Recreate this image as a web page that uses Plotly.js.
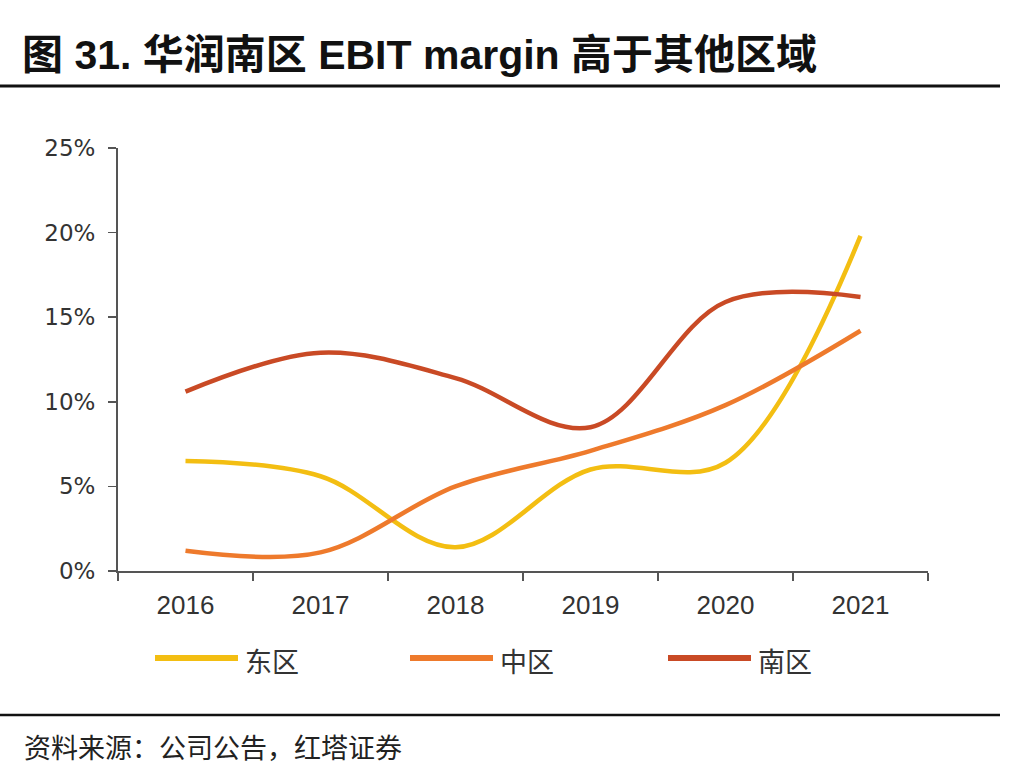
<!DOCTYPE html>
<html><head><meta charset="utf-8">
<script src="https://cdn.plot.ly/plotly-3.0.1.min.js"></script>
<style>html,body{margin:0;padding:0;background:#fff;}#chart{width:1024px;height:778px;}</style>
</head><body><div id="chart"></div>
<script>
const years = ['2016','2017','2018','2019','2020','2021'];
const east = [6.5, 5.6, 1.4, 6.0, 6.4, 19.8];
const central = [1.2, 1.1, 5.0, 7.1, 9.8, 14.2];
const south = [10.6, 12.9, 11.4, 8.5, 15.9, 16.2];
const seriesNames = ['东区','中区','南区'];
const colors = ['#F3BE12','#EE7A2C','#C94A25'];
const yTicks = [0,5,10,15,20,25];

const allSeries = [east, central, south];
const traces = allSeries.map((v,i)=>({
  x: years, y: v, type:'scatter', mode:'lines', name: seriesNames[i],
  line:{color:colors[i], width:4.5, shape:'spline', smoothing:1},
  hoverinfo:'skip'
}));

function py(pix){ return (778-207-pix)/423; }
function px(pix){ return (pix-118)/810; }
const deco = [
  {type:'line', xref:'paper', yref:'paper', x0:px(0), x1:px(1000), y0:py(86), y1:py(86), line:{color:'#111', width:3}},
  {type:'line', xref:'paper', yref:'paper', x0:px(0), x1:px(1000), y0:py(715), y1:py(715), line:{color:'#111', width:2.5}}
];
const legX = [155, 410, 668];
const annotations = [
  {xref:'paper', yref:'paper', x:px(20), y:py(55), xanchor:'left', yanchor:'middle', showarrow:false,
   text:'<b>图 31. 华润南区 EBIT margin 高于其他区域</b>', font:{family:'Liberation Sans, Noto Sans CJK SC', size:41, color:'#111'}},
  {xref:'paper', yref:'paper', x:px(22), y:py(746), xanchor:'left', yanchor:'middle', showarrow:false,
   text:'资料来源：公司公告，红塔证券', font:{family:'Noto Sans CJK SC', size:27, color:'#222'}}
];
seriesNames.forEach((n,i)=>{
  deco.push({type:'line', xref:'paper', yref:'paper', x0:px(legX[i]), x1:px(legX[i]+83), y0:py(658), y1:py(658), line:{color:colors[i], width:6}});
  annotations.push({xref:'paper', yref:'paper', x:px(legX[i]+88), y:py(660), xanchor:'left', yanchor:'middle', showarrow:false,
    text:n, font:{family:'Noto Sans CJK SC', size:27, color:'#333'}});
});

const layout = {
  width:1024, height:778,
  margin:{l:118, r:96, t:148, b:207},
  paper_bgcolor:'#fff', plot_bgcolor:'#fff',
  showlegend:false,
  xaxis:{type:'category', range:[-0.5,5.5], showline:true, linecolor:'#555', linewidth:2,
    ticks:'outside', tickson:'boundaries', ticklen:8, tickcolor:'#555', tickwidth:1.5,
    showgrid:false, zeroline:false, fixedrange:true,
    tickfont:{family:'Liberation Sans Narrow, Liberation Sans', size:26, color:'#333'}, ticklabelstandoff:10},
  yaxis:{range:[0,25], tickvals:yTicks, ticktext:yTicks.map(v=>v+'%'), showline:true, linecolor:'#555', linewidth:2,
    ticks:'outside', ticklen:8, tickcolor:'#555', tickwidth:1.5, showgrid:false, zeroline:false,
    tickfont:{family:'DejaVu Sans', size:23, color:'#333'}, ticklabelstandoff:8},
  shapes: deco,
  annotations: annotations
};
Plotly.newPlot('chart', traces, layout, {staticPlot:true});
</script></body></html>
